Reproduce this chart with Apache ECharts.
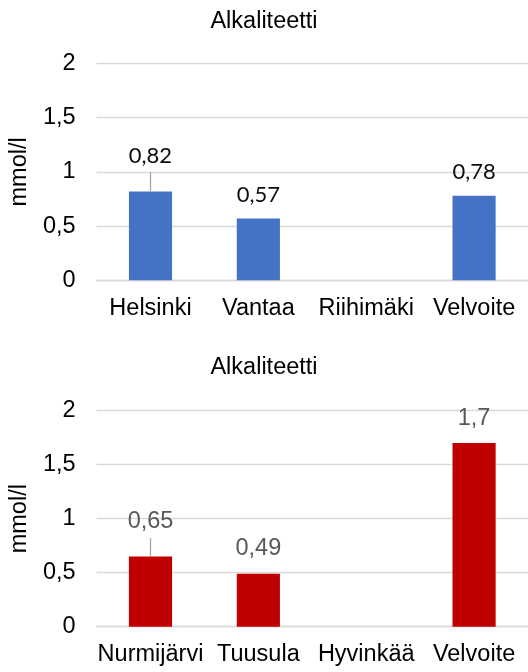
<!DOCTYPE html>
<html>
<head>
<meta charset="utf-8">
<script src="https://cdn.jsdelivr.net/npm/echarts@6/dist/echarts.min.js"></script>
<style>
html,body{margin:0;padding:0;background:#fff;}
#c{width:528px;height:672px;}
</style>
</head>
<body>
<div id="c"></div>
<script>
const titleText = 'Alkaliteetti';
const yAxisName = 'mmol/l';
const categoriesTop = ['Helsinki', 'Vantaa', 'Riihimäki', 'Velvoite'];
const valuesTop = [0.82, 0.57, null, 0.78];
const errorTop = [0.18, null, null, null];
const categoriesBottom = ['Nurmijärvi', 'Tuusula', 'Hyvinkää', 'Velvoite'];
const valuesBottom = [0.65, 0.49, null, 1.7];
const errorBottom = [0.17, null, null, null];
const yMin = 0, yMax = 2, yStep = 0.5;

const fmt = v => String(v).replace('.', ',');
const AX_FONT = '"Liberation Sans", Arial, sans-serif';
const FS = 23.5;

function barData(vals, errs) {
  return vals.map((v, i) => (errs[i] != null ? {value: v, label: {show: false}} : v));
}
function errData(vals, errs) {
  const out = [];
  vals.forEach((v, i) => { if (errs[i] != null && v != null) out.push([i, v, v + errs[i]]); });
  return out;
}
function errRender(ls) {
  return function (params, api) {
    const x = api.value(0);
    const p0 = api.coord([x, api.value(1)]);
    const p1 = api.coord([x, api.value(2)]);
    return {
      type: 'group',
      children: [
        {type: 'line', shape: {x1: p0[0], y1: p0[1], x2: p1[0], y2: p1[1]},
         style: {stroke: '#A6A6A6', lineWidth: 1.3}},
        {type: 'text', x: p1[0], y: p1[1] - 5,
         style: {text: fmt(api.value(1)), textAlign: 'center', textVerticalAlign: 'bottom',
                 fill: ls.color, fontFamily: ls.fontFamily, fontSize: ls.fontSize}}
      ]
    };
  };
}

const chart = echarts.init(document.getElementById('c'), null, {renderer: 'canvas'});

const topLabel = {fontFamily: 'Lato', fontSize: 22, color: '#0d0d0d'};
const botLabel = {fontFamily: AX_FONT, fontSize: FS, color: '#595959'};

function yAxis(gi) {
  return {
    gridIndex: gi, type: 'value', min: yMin, max: yMax, interval: yStep,
    name: yAxisName, nameLocation: 'middle', nameGap: 60, nameRotate: 90,
    nameTextStyle: {fontFamily: AX_FONT, fontSize: FS, color: '#000'},
    axisLine: {show: false}, axisTick: {show: false},
    axisLabel: {formatter: fmt, fontFamily: AX_FONT, fontSize: FS, color: '#000', margin: 21},
    splitLine: {lineStyle: {color: '#D9D9D9', width: 1.3}}
  };
}
function xAxis(gi, cats) {
  return {
    gridIndex: gi, type: 'category', data: cats,
    axisLine: {show: true, lineStyle: {color: '#D9D9D9', width: 1.3}},
    axisTick: {show: false},
    axisLabel: {fontFamily: AX_FONT, fontSize: FS, color: '#000', margin: 16, interval: 0}
  };
}

chart.setOption({
  animation: false,
  title: [
    {text: titleText, left: 'center', top: 5, textStyle: {fontFamily: AX_FONT, fontSize: FS, fontWeight: 'normal', color: '#000'}},
    {text: titleText, left: 'center', top: 351, textStyle: {fontFamily: AX_FONT, fontSize: FS, fontWeight: 'normal', color: '#000'}}
  ],
  grid: [
    {left: 94, right: 0, top: 63.5, height: 216.8},
    {left: 94, right: 0, top: 410.7, height: 216}
  ],
  xAxis: [xAxis(0, categoriesTop), xAxis(1, categoriesBottom)],
  yAxis: [yAxis(0), yAxis(1)],
  series: [
    {type: 'bar', xAxisIndex: 0, yAxisIndex: 0, data: barData(valuesTop, errorTop), barWidth: '40%',
     itemStyle: {color: '#4472C4'},
     label: Object.assign({show: true, position: 'top', distance: 13, formatter: p => fmt(p.value)}, topLabel)},
    {type: 'custom', xAxisIndex: 0, yAxisIndex: 0, data: errData(valuesTop, errorTop),
     renderItem: errRender(topLabel), z: 3},
    {type: 'bar', xAxisIndex: 1, yAxisIndex: 1, data: barData(valuesBottom, errorBottom), barWidth: '40%',
     itemStyle: {color: '#C00000'},
     label: Object.assign({show: true, position: 'top', distance: 13, formatter: p => fmt(p.value)}, botLabel)},
    {type: 'custom', xAxisIndex: 1, yAxisIndex: 1, data: errData(valuesBottom, errorBottom),
     renderItem: errRender(botLabel), z: 3}
  ]
});
</script>
</body>
</html>
